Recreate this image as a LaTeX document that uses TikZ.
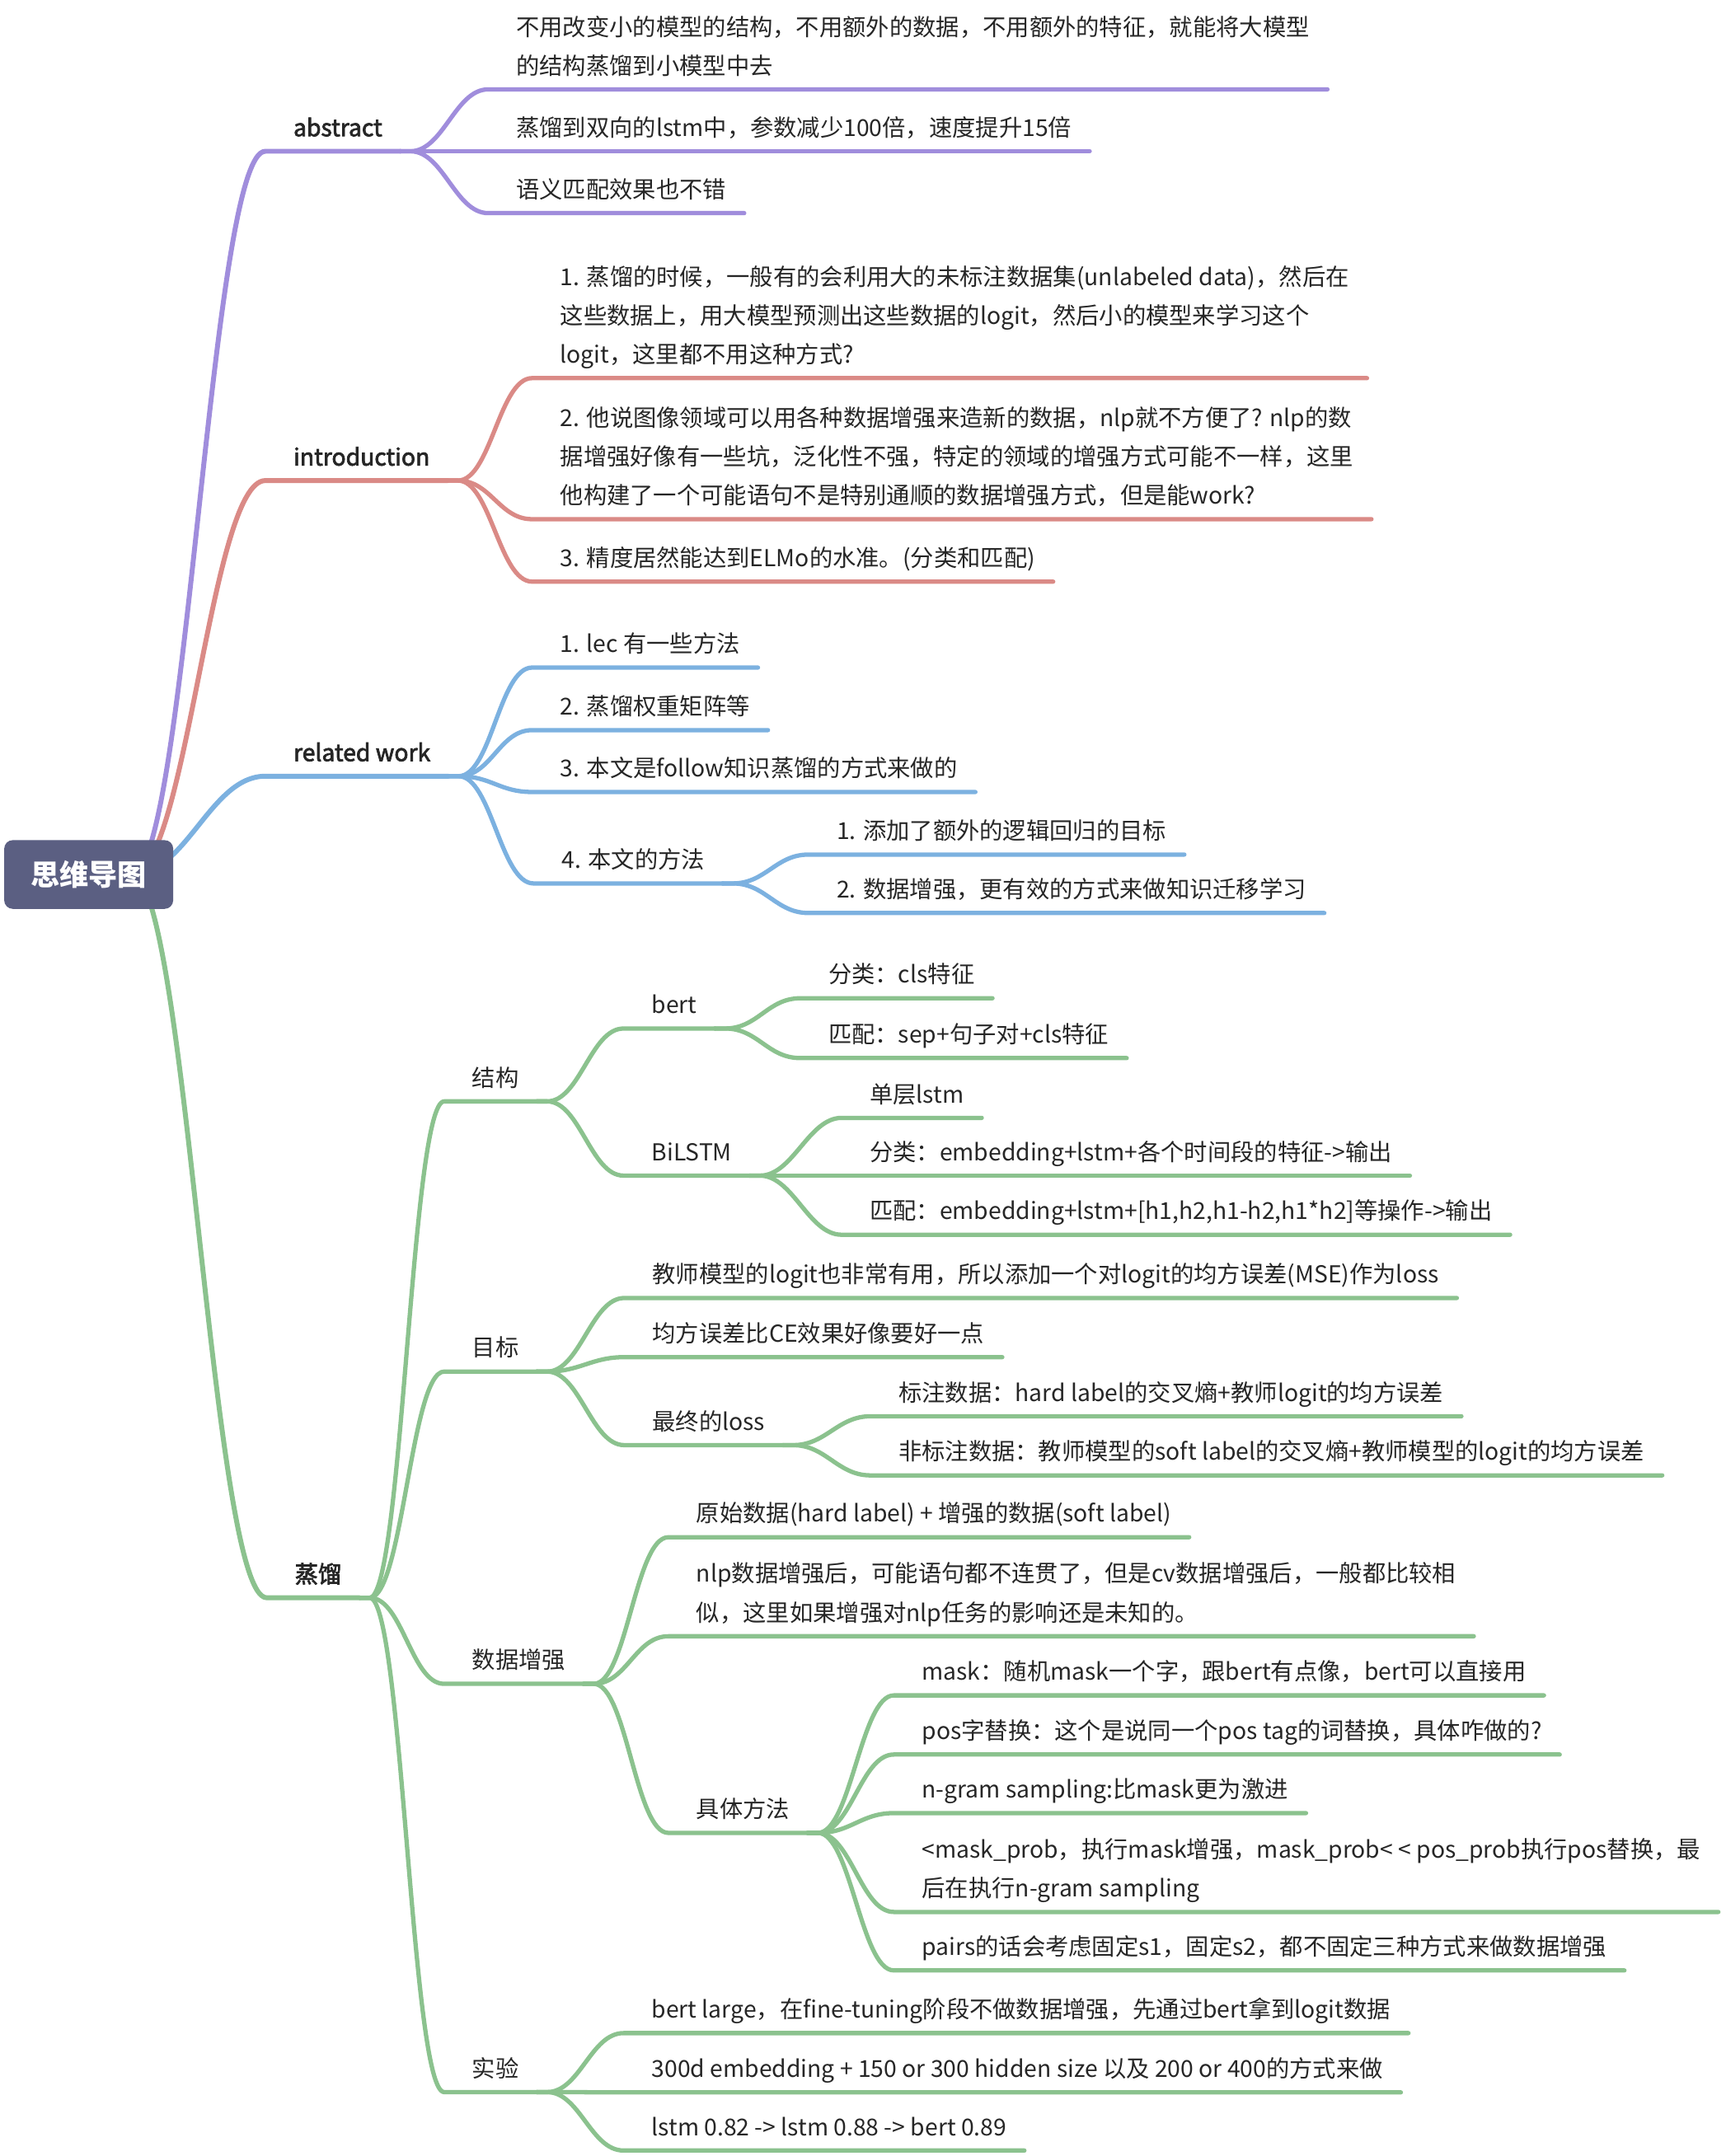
\documentclass[tikz,border=0pt]{standalone}
\usepackage{fontspec}
\setmainfont{Noto Sans CJK SC}
\newfontfamily\topicfont[FakeBold=2.6]{Noto Sans CJK SC}
\usepackage{xcolor}
\usepackage{tikz}
\usetikzlibrary{calc, backgrounds}

\definecolor{rootfill}{RGB}{91,95,130}
\definecolor{abspurple}{RGB}{160,141,220}
\definecolor{introred}{RGB}{218,138,134}
\definecolor{relblue}{RGB}{124,177,224}
\definecolor{zlgreen}{RGB}{139,194,142}
\definecolor{ink}{RGB}{38,38,38}

\begin{document}
\begin{tikzpicture}[x=0.016685cm, y=-0.016685cm,
        topic/.style={anchor=south west, xshift=-6pt, inner xsep=6pt, inner ysep=2.5pt, text depth=2.5pt, align=left, text=ink, font=\fontsize{8.05pt}{13.4pt}\selectfont},
        main/.style={topic, font=\fontsize{8.05pt}{13.4pt}\selectfont\topicfont},
        branch/.style={line width=1.5pt, line cap=round, line join=round, to path={.. controls ($(\tikztostart)+(24,0)$) and ($(\tikztotarget)+(-24,0)$) .. (\tikztotarget)}},
        trunk/.style={branch, line width=1.7pt, to path={.. controls ($(\tikztostart)+(40,0)$) and ($(\tikztotarget)+(-40,0)$) .. (\tikztotarget)}}]
                \useasboundingbox (0,0) rectangle (1255,1568);
                \node[fill=rootfill, rounded corners=3pt, minimum width=2.05cm, minimum height=0.834cm, text=white, font=\fontsize{10pt}{12pt}\selectfont\bfseries] (root) at (64.5,636) {思维导图};

                \node[main] (abs) at (213,110) {abstract};
                \node[topic] (a1) at (375,65) {不用改变小的模型的结构，不用额外的数据，不用额外的特征，就能将大模型\\的结构蒸馏到小模型中去};
                \node[topic] (a2) at (375,110) {蒸馏到双向的lstm中，参数减少100倍，速度提升15倍};
                \node[topic] (a3) at (375,155) {语义匹配效果也不错};

                \node[main] (intro) at (213,349.5) {introduction};
                \node[topic] (i1) at (407,275) {1. 蒸馏的时候，一般有的会利用大的未标注数据集(unlabeled data)，然后在\\这些数据上，用大模型预测出这些数据的logit，然后小的模型来学习这个\\logit，这里都不用这种方式?};
                \node[topic] (i2) at (407,377.6) {2. 他说图像领域可以用各种数据增强来造新的数据，nlp就不方便了? nlp的数\\据增强好像有一些坑，泛化性不强，特定的领域的增强方式可能不一样，这里\\他构建了一个可能语句不是特别通顺的数据增强方式，但是能work?};
                \node[topic] (i3) at (407,423) {3. 精度居然能达到ELMo的水准。(分类和匹配)};

                \node[main] (rel) at (213,564.5) {related work};
                \node[topic] (r1) at (407,485.5) {1. lec 有一些方法};
                \node[topic] (r2) at (407,531) {2. 蒸馏权重矩阵等};
                \node[topic] (r3) at (407,576) {3. 本文是follow知识蒸馏的方式来做的};
                \node[topic] (r4) at (408,642.5) {4. 本文的方法};
                \node[topic] (r41) at (608,621.5) {1. 添加了额外的逻辑回归的目标};
                \node[topic] (r42) at (608,664) {2. 数据增强，更有效的方式来做知识迁移学习};

                \node[main] (zl) at (214,1162) {蒸馏};
                \node[topic] (jg) at (343,801) {结构};
                \node[topic] (bert) at (473.5,748) {bert};
                \node[topic] (b1) at (602,726) {分类：cls特征};
                \node[topic] (b2) at (602,769.5) {匹配：sep+句子对+cls特征};
                \node[topic] (bil) at (473.5,855) {BiLSTM};
                \node[topic] (l1) at (632,813) {单层lstm};
                \node[topic] (l2) at (632,855) {分类：embedding+lstm+各个时间段的特征->输出};
                \node[topic] (l3) at (632,898) {匹配：embedding+lstm+[h1,h2,h1-h2,h1*h2]等操作->输出};

                \node[topic] (mb) at (343,997.5) {目标};
                \node[topic] (g1) at (474,944) {教师模型的logit也非常有用，所以添加一个对logit的均方误差(MSE)作为loss};
                \node[topic] (g2) at (474,987) {均方误差比CE效果好像要好一点};
                \node[topic] (g3) at (474,1051) {最终的loss};
                \node[topic] (g31) at (653,1030) {标注数据：hard label的交叉熵+教师logit的均方误差};
                \node[topic] (g32) at (653,1073) {非标注数据：教师模型的soft label的交叉熵+教师模型的logit的均方误差};

                \node[topic] (sj) at (343,1224.6) {数据增强};
                \node[topic] (d1) at (506,1118) {原始数据(hard label) + 增强的数据(soft label)};
                \node[topic] (d2) at (506,1190) {nlp数据增强后，可能语句都不连贯了，但是cv数据增强后，一般都比较相\\似，这里如果增强对nlp任务的影响还是未知的。};
                \node[topic] (d3) at (506,1333) {具体方法};
                \node[topic] (m1) at (670,1233) {mask：随机mask一个字，跟bert有点像，bert可以直接用};
                \node[topic] (m2) at (670,1276) {pos字替换：这个是说同一个pos tag的词替换，具体咋做的?};
                \node[topic] (m3) at (670,1318.6) {n-gram sampling:比mask更为激进};
                \node[topic] (m4) at (670,1390.5) {<mask\_prob，执行mask增强，mask\_prob< < pos\_prob执行pos替换，最\\后在执行n-gram sampling};
                \node[topic] (m5) at (670,1433) {pairs的话会考虑固定s1，固定s2，都不固定三种方式来做数据增强};

                \node[topic] (sy) at (343,1521.5) {实验};
                \node[topic] (e1) at (473.5,1478.6) {bert large，在fine-tuning阶段不做数据增强，先通过bert拿到logit数据};
                \node[topic] (e2) at (473.5,1521.7) {300d embedding + 150 or 300 hidden size 以及 200 or 400的方式来做};
                \node[topic] (e3) at (473.5,1564) {lstm 0.82 -> lstm 0.88 -> bert 0.89};

                \begin{scope}[on background layer]
                \draw[trunk, abspurple] ([xshift=0.52cm]root.center) to ([xshift=-3.5pt]abs.south west) -- (abs.south east);
                \draw[trunk, introred] ([xshift=0.52cm]root.center) to ([xshift=-3.5pt]intro.south west) -- (intro.south east);
                \draw[trunk, relblue] ([xshift=0.52cm]root.center) to ([xshift=-3.5pt]rel.south west) -- (rel.south east);
                \draw[trunk, zlgreen] ([xshift=0.52cm]root.center) to ([xshift=-3.5pt]zl.south west) -- (zl.south east);

                \foreach \kid in {a1, a2, a3}
                    \draw[branch, abspurple] (abs.south east) -- ++(3.5pt,0) to ([xshift=-3.5pt]\kid.south west) -- (\kid.south east);
                \foreach \kid in {i1, i2, i3}
                    \draw[branch, introred] (intro.south east) -- ++(3.5pt,0) to ([xshift=-3.5pt]\kid.south west) -- (\kid.south east);
                \foreach \kid in {r1, r2, r3, r4}
                    \draw[branch, relblue] (rel.south east) -- ++(3.5pt,0) to ([xshift=-3.5pt]\kid.south west) -- (\kid.south east);
                \foreach \kid in {r41, r42}
                    \draw[branch, relblue] (r4.south east) -- ++(3.5pt,0) to ([xshift=-3.5pt]\kid.south west) -- (\kid.south east);

                \foreach \kid in {jg, mb, sj, sy}
                    \draw[branch, zlgreen] (zl.south east) -- ++(3.5pt,0) to ([xshift=-3.5pt]\kid.south west) -- (\kid.south east);
                \foreach \kid in {bert, bil}
                    \draw[branch, zlgreen] (jg.south east) -- ++(3.5pt,0) to ([xshift=-3.5pt]\kid.south west) -- (\kid.south east);
                \foreach \kid in {b1, b2}
                    \draw[branch, zlgreen] (bert.south east) -- ++(3.5pt,0) to ([xshift=-3.5pt]\kid.south west) -- (\kid.south east);
                \foreach \kid in {l1, l2, l3}
                    \draw[branch, zlgreen] (bil.south east) -- ++(3.5pt,0) to ([xshift=-3.5pt]\kid.south west) -- (\kid.south east);
                \foreach \kid in {g1, g2, g3}
                    \draw[branch, zlgreen] (mb.south east) -- ++(3.5pt,0) to ([xshift=-3.5pt]\kid.south west) -- (\kid.south east);
                \foreach \kid in {g31, g32}
                    \draw[branch, zlgreen] (g3.south east) -- ++(3.5pt,0) to ([xshift=-3.5pt]\kid.south west) -- (\kid.south east);
                \foreach \kid in {d1, d2, d3}
                    \draw[branch, zlgreen] (sj.south east) -- ++(3.5pt,0) to ([xshift=-3.5pt]\kid.south west) -- (\kid.south east);
                \foreach \kid in {m1, m2, m3, m4, m5}
                    \draw[branch, zlgreen] (d3.south east) -- ++(3.5pt,0) to ([xshift=-3.5pt]\kid.south west) -- (\kid.south east);
                \foreach \kid in {e1, e2, e3}
                    \draw[branch, zlgreen] (sy.south east) -- ++(3.5pt,0) to ([xshift=-3.5pt]\kid.south west) -- (\kid.south east);
                \end{scope}
            \end{tikzpicture}
\end{document}
